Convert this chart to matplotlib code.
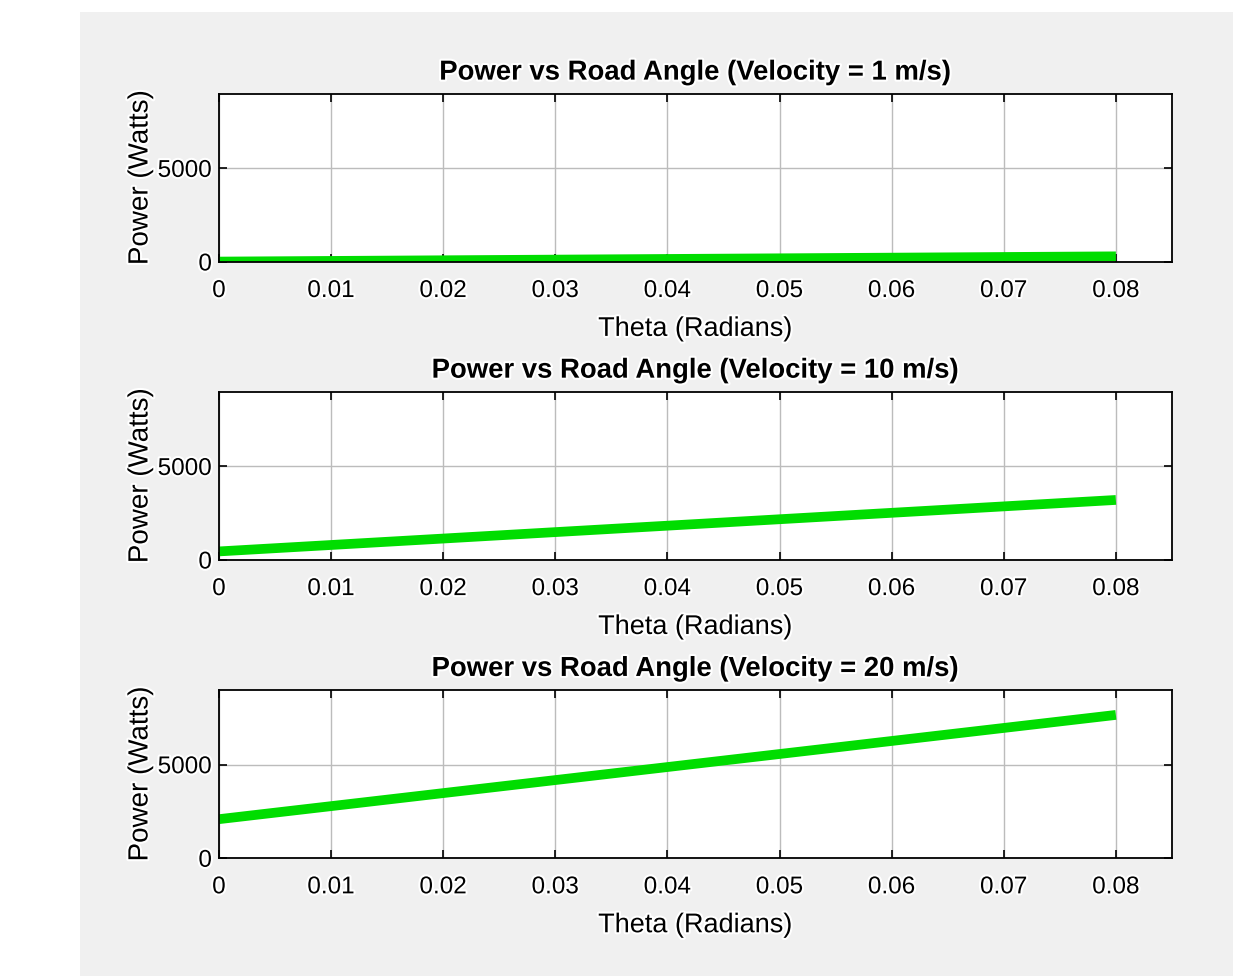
import matplotlib
matplotlib.use("Agg")
import matplotlib.pyplot as plt
import matplotlib.patheffects as pe
from matplotlib.patches import Rectangle

# road angle (rad) and power (W) at the ends of each straight line
theta = [0.0, 0.08]
power_v1 = [20, 300]
power_v10 = [460, 3210]
power_v20 = [2090, 7660]
velocities = [1, 10, 20]
xticks = [0, 0.01, 0.02, 0.03, 0.04, 0.05, 0.06, 0.07, 0.08]
xtick_labels = ["0", "0.01", "0.02", "0.03", "0.04", "0.05", "0.06", "0.07", "0.08"]
yticks = [0, 5000]

plt.rcParams["font.family"] = ["Liberation Sans", "DejaVu Sans"]
halo = [pe.withStroke(linewidth=3, foreground="white")]

fig = plt.figure(figsize=(12.47, 9.76), dpi=100)
fig.patch.set_facecolor("white")
fig.patches.append(Rectangle((80 / 1247, 0), (1233 - 80) / 1247, (976 - 12) / 976,
                             transform=fig.transFigure, facecolor="#f0f0f0",
                             edgecolor="none", zorder=-10))

bottoms = [0.7316, 0.4262, 0.1206]
series = [power_v1, power_v10, power_v20]

for b, v, p in zip(bottoms, velocities, series):
    ax = fig.add_axes([0.1756, b, 0.7642, 0.1726])
    ax.plot(theta, p, color="#00dd00", lw=7, solid_capstyle="butt")
    ax.set_xlim(0, 0.085)
    ax.set_ylim(0, 9000)
    ax.set_xticks(xticks)
    ax.set_xticklabels(xtick_labels)
    ax.set_yticks(yticks)
    ax.grid(True, color="#bcbcbc", lw=1)
    ax.set_axisbelow(True)
    ax.tick_params(direction="in", top=True, right=True, length=6, width=1.2,
                   labelsize=17.5)
    ax.tick_params(axis="x", pad=13)
    ax.tick_params(axis="y", pad=5)
    for s in ax.spines.values():
        s.set_linewidth(1.3)
    ax.set_title(f"Power vs Road Angle (Velocity = {v} m/s)", fontsize=19.8,
                 fontweight="bold", pad=10, path_effects=halo)
    ax.set_xlabel("Theta (Radians)", fontsize=19.5, labelpad=10, path_effects=halo)
    ax.set_ylabel("Power (Watts)", fontsize=20, labelpad=3, path_effects=halo)
    for t in ax.get_xticklabels() + ax.get_yticklabels():
        t.set_path_effects(halo)

fig.savefig("out.png", dpi=100)
